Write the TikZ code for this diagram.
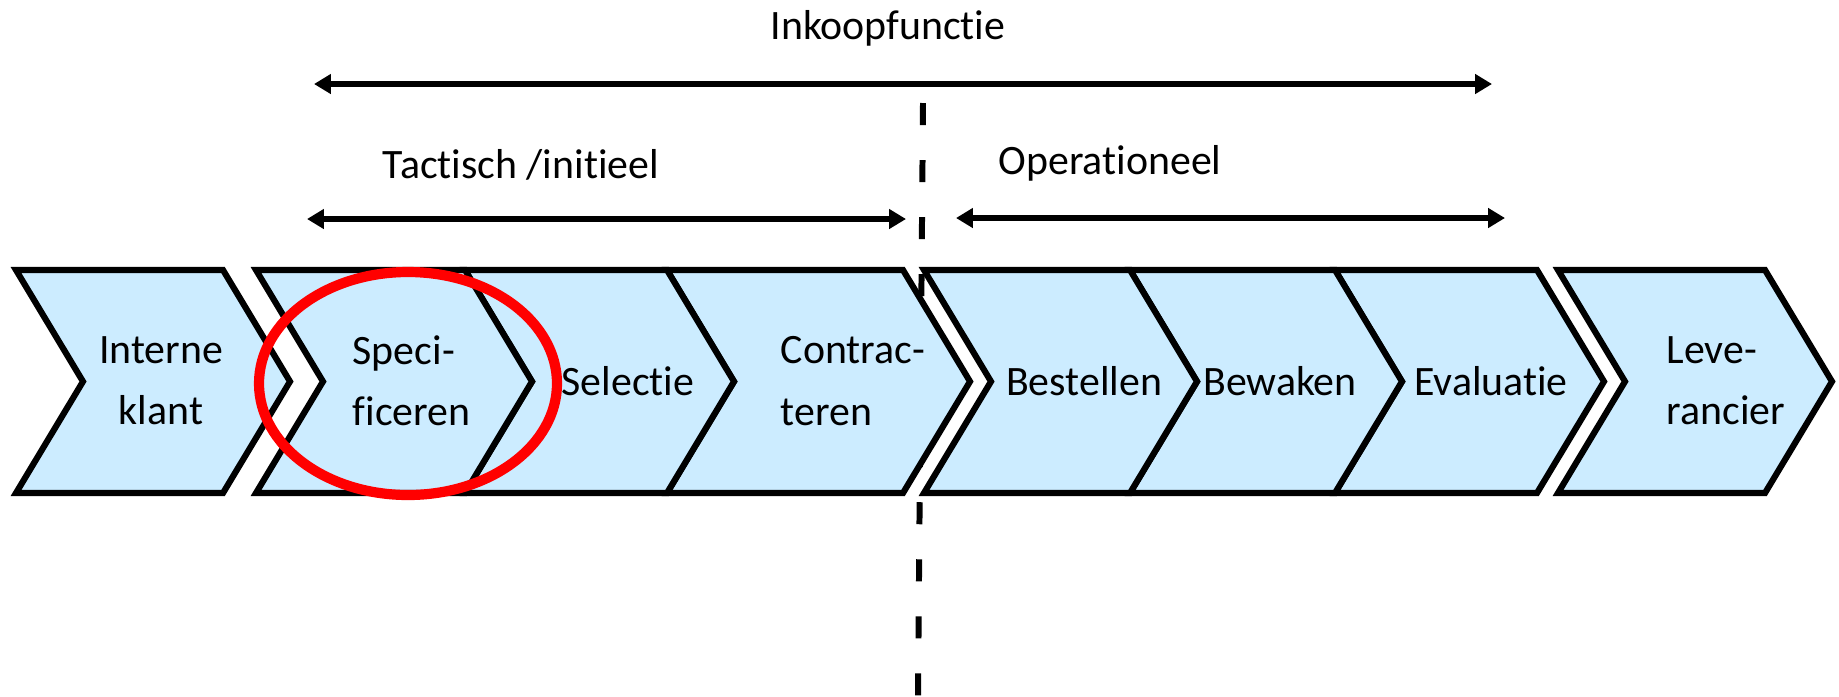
\documentclass[tikz,border=0pt]{standalone}
\usepackage{fontspec}
\setmainfont{Carlito}[Ligatures=NoCommon]
\usetikzlibrary{arrows.meta}

\definecolor{stapblauw}{RGB}{204,236,255}

\begin{document}
\begin{tikzpicture}[x=0.01cm,y=-0.01cm,
    stap/.style={draw=black,line width=1.75pt,fill=stapblauw,line join=miter},
    stapnaam/.style={font=\fontsize{11.9pt}{17.4pt}\selectfont,inner sep=0pt},
    kop/.style={font=\fontsize{11.9pt}{14pt}\selectfont,inner sep=0pt},
    pijl/.style={line width=1.7pt,{Triangle[length=4.8pt,width=5.4pt]}-{Triangle[length=4.8pt,width=5.4pt]}}]

    % fixed frame, same proportions as the slide
    \useasboundingbox (0,0) rectangle (1839,696);

    % labels above the chain
    \node[kop] (inkoop) at (888,28) {Inkoopfunctie};
    \node[kop] (tactisch) at (521,165) {Tactisch /initieel};
    \node[kop] (operationeel) at (1110,163) {Operationeel};

    % arrow ends
    \coordinate (inkoopL) at (314,84);
    \coordinate (inkoopR) at (1492,84);
    \coordinate (tactischL) at (307,219);
    \coordinate (tactischR) at (906,219);
    \coordinate (operationeelL) at (956,218);
    \coordinate (operationeelR) at (1505,218);

    \draw[pijl] (inkoopL) -- (inkoopR);
    \draw[pijl] (tactischL) -- (tactischR);
    \draw[pijl] (operationeelL) -- (operationeelR);

    % dividing line (behind the chevrons)
    \coordinate (grensboven) at (923,103);
    \coordinate (grensonder) at (918,696);
    \draw[line width=1.7pt,dash pattern=on 0.22cm off 0.35cm] (grensboven) -- (grensonder);

    % chevrons, right to left so every tip lies over the next notch
    \foreach \a/\b in {1558/1765, 1335/1537, 1130/1335, 924/1130, 667/903, 465/667, 256/465, 16/223}
        \draw[stap] (\a,270) -- (\b,270) -- (\b+67,381.5) -- (\b,493) -- (\a,493) -- (\a+67,381.5) -- cycle;

    % step names
    \node[stapnaam,align=center] (klant) at (161,381) {Interne\\klant};
    \node[stapnaam,align=left,anchor=west] (specificeren) at (352,381) {Speci-\\ficeren};
    \node[stapnaam] (selectie) at (628,381) {Selectie};
    \node[stapnaam,align=left,anchor=west] (contracteren) at (780,381) {Contrac-\\teren};
    \node[stapnaam] (bestellen) at (1084,381) {Bestellen};
    \node[stapnaam] (bewaken) at (1280,381) {Bewaken};
    \node[stapnaam] (evaluatie) at (1491,381) {Evaluatie};
    \node[stapnaam,align=left,anchor=west] (leverancier) at (1666,381) {Leve-\\rancier};

    % red ring round the specification step
    \draw[red,line width=2.9pt] (408,383.5) ellipse [x radius=149, y radius=111.5];

\end{tikzpicture}
\end{document}
